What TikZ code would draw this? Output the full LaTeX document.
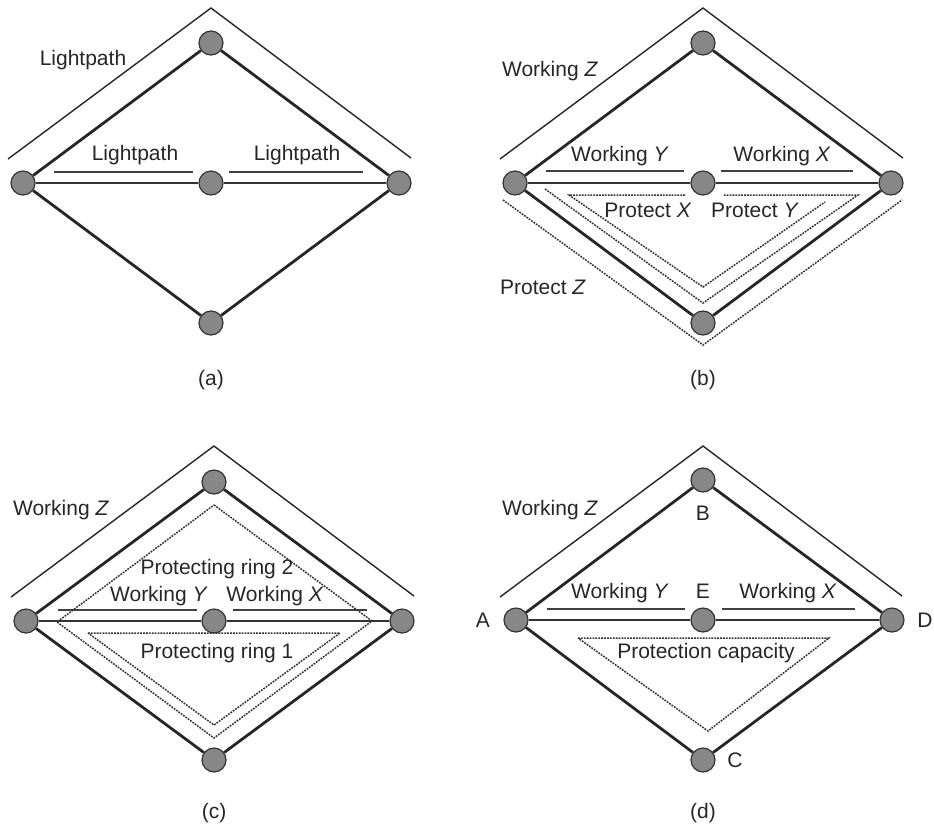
\documentclass[tikz,border=0pt]{standalone}
\usepackage{fontspec}
\setmainfont{Liberation Sans}
\begin{document}
\begin{tikzpicture}[x=0.5pt,y=-0.5pt,
  every node/.style={font=\fontsize{10.5}{12}\selectfont,text=black!85},
  site/.style={circle,draw=black!80,line width=0.6pt,fill=black!47,minimum size=12pt,inner sep=0pt},
  fibre/.style={line width=1.4pt,draw=black!85},
  span/.style={line width=0.9pt,draw=black!80},
  lpath/.style={line width=0.9pt,draw=black!75},
  outer/.style={line width=0.7pt,draw=black!85},
  prot/.style={line width=0.75pt,draw=black!80,dash pattern=on 0.9pt off 0.55pt}]
  \useasboundingbox (0,0) rectangle (934,827);

  % (a): three lightpaths on the ring
  \begin{scope}[shift={(211,183)}]
    \node[site] (aA) at (-188,0) {};
    \node[site] (aB) at (0,-140) {};
    \node[site] (aC) at (0,140) {};
    \node[site] (aD) at (188,0) {};
    \node[site] (aE) at (0,0) {};
    \draw[fibre] (aA) -- (aB) -- (aD) -- (aC) -- (aA);
    \draw[span] (aA) -- (aE) -- (aD);

    \draw[outer] (-203,-24) -- (0,-175) -- (200,-25);
    \draw[lpath] (-157,-11) -- (-18,-11);
    \draw[lpath] (18,-11) -- (152,-11);

    \node (aLz) at (-128,-123) {Lightpath};
    \node (aLy) at (-76,-28) {Lightpath};
    \node (aLx) at (86,-28) {Lightpath};
    \node (aCap) at (0,197) {(a)};
  \end{scope}

  % (b): each lightpath with its own protection path
  \begin{scope}[shift={(703,183)}]
    \node[site] (bA) at (-188,0) {};
    \node[site] (bB) at (0,-140) {};
    \node[site] (bC) at (0,140) {};
    \node[site] (bD) at (188,0) {};
    \node[site] (bE) at (0,0) {};
    \draw[fibre] (bA) -- (bB) -- (bD) -- (bC) -- (bA);
    \draw[span] (bA) -- (bE) -- (bD);

    \draw[outer] (-203,-24) -- (0,-175) -- (200,-25);
    \draw[lpath] (-157,-12) -- (-19,-12);
    \draw[lpath] (18,-12) -- (150,-12);

    % protection paths
    \draw[prot] (-18,12) -- (-134,12) -- (0,104) -- (122,19);
    \draw[prot] (-158,6) -- (0,120) -- (155,12) -- (20,12);
    \draw[prot] (-200,17) -- (0,162) -- (199,17);

    \node (bWz) at (-153,-112) {Working \textit{Z}};
    \node (bWy) at (-83,-27) {Working \textit{Y}};
    \node (bWx) at (79,-27) {Working \textit{X}};
    \node (bPx) at (-55,27) {Protect \textit{X}};
    \node (bPy) at (52,27) {Protect \textit{Y}};
    \node (bPz) at (-160,104) {Protect \textit{Z}};
    \node (bCap) at (0,197) {(b)};
  \end{scope}

  % (c): two protecting rings
  \begin{scope}[shift={(214,621)}]
    \node[site] (cA) at (-188,0) {};
    \node[site] (cB) at (0,-139) {};
    \node[site] (cC) at (0,139) {};
    \node[site] (cD) at (188,0) {};
    \node[site] (cE) at (0,0) {};
    \draw[fibre] (cA) -- (cB) -- (cD) -- (cC) -- (cA);
    \draw[span] (cA) -- (cE) -- (cD);

    \draw[outer] (-203,-24) -- (0,-175) -- (200,-25);
    \draw[lpath] (-156,-11) -- (-17,-11);
    \draw[lpath] (19,-11) -- (153,-11);

    % protecting rings
    \draw[prot] (0,-116) -- (158,0) -- (0,117) -- (-157,1) -- cycle;
    \draw[prot] (-126,12) -- (126,12) -- (0,104) -- cycle;

    \node (cWz) at (-153,-111) {Working \textit{Z}};
    \node (cR2) at (3,-52) {Protecting ring 2};
    \node (cWy) at (-55,-25) {Working \textit{Y}};
    \node (cWx) at (61,-25) {Working \textit{X}};
    \node (cR1) at (3,32) {Protecting ring 1};
    \node (cCap) at (0,192) {(c)};
  \end{scope}

  % (d): shared protection capacity
  \begin{scope}[shift={(703,620)}]
    \node[site] (dA) at (-187,0) {};
    \node[site] (dB) at (0,-140) {};
    \node[site] (dC) at (0,140) {};
    \node[site] (dD) at (189,0) {};
    \node[site] (dE) at (0,0) {};
    \draw[fibre] (dA) -- (dB) -- (dD) -- (dC) -- (dA);
    \draw[span] (dA) -- (dE) -- (dD);

    \draw[outer] (-203,-23) -- (0,-174) -- (199,-24);
    \draw[lpath] (-156,-11) -- (-18,-11);
    \draw[lpath] (19,-11) -- (152,-11);

    % protection capacity
    \draw[prot] (-125,18) -- (126,18) -- (5,111) -- cycle;

    \node (dLa) at (-220,0) {A};
    \node (dLb) at (0,-107) {B};
    \node (dLc) at (32,140) {C};
    \node (dLd) at (222,0) {D};
    \node (dLe) at (0,-29) {E};
    \node (dWz) at (-153,-110) {Working \textit{Z}};
    \node (dWy) at (-83,-27) {Working \textit{Y}};
    \node (dWx) at (85,-27) {Working \textit{X}};
    \node (dPc) at (3,33) {Protection capacity};
    \node (dCap) at (0,193) {(d)};
  \end{scope}
\end{tikzpicture}
\end{document}
